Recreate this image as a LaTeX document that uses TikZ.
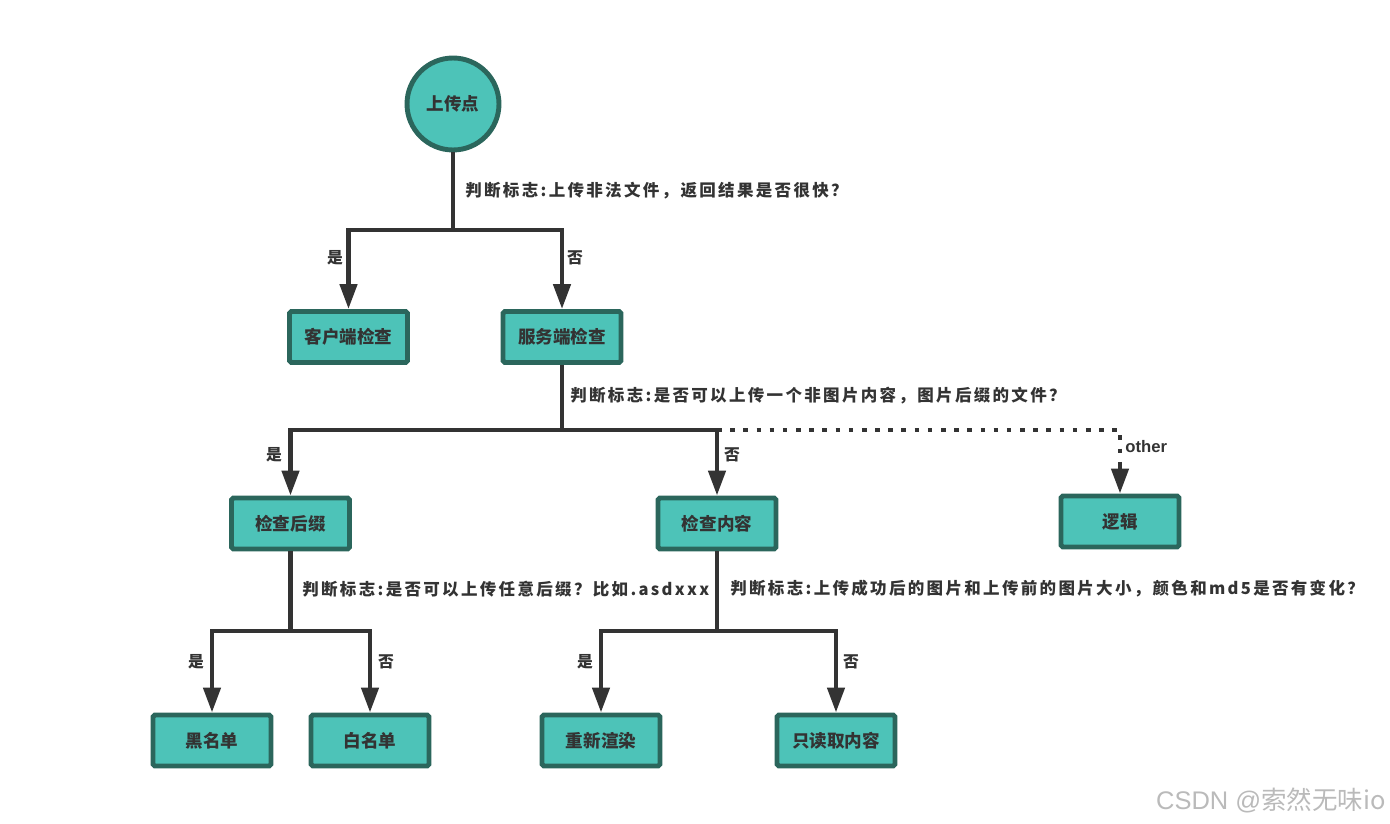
\documentclass[tikz,border=0pt]{standalone}
\usepackage{fontspec}
\setmainfont{Noto Sans CJK SC}
\newfontfamily\latinfont{Liberation Sans}
\newfontfamily\lblfont{Noto Sans CJK SC}[LetterSpace=14]
\usetikzlibrary{positioning}
\usetikzlibrary{arrows.meta}
\definecolor{tealfill}{HTML}{4DC3B8}
\definecolor{tealline}{HTML}{2B665C}
\definecolor{ink}{HTML}{333333}
\tikzset{
    startnode/.style = {circle, line width=2.8pt, draw=tealline, fill=tealfill, minimum size=1.84cm, inner sep=0pt, text=ink, font=\bfseries\fontsize{10}{12}\selectfont},
    cell/.style = {rectangle, rounded corners=1pt, line width=2.8pt, draw=tealline, fill=tealfill, minimum width=2.36cm, minimum height=1.02cm, inner sep=0pt, text=ink, font=\bfseries\fontsize{10}{12}\selectfont},
    question/.style = {anchor=west, inner sep=0pt, text=ink, font=\lblfont\bfseries\fontsize{9.4}{11}\selectfont},
    answer/.style = {inner sep=0pt, text=ink, font=\bfseries\fontsize{9}{11}\selectfont},
    edgel/.style = {line width=2.6pt, ink}, % plain
    edgen/.style = {-{Triangle[length=0.5cm,width=0.34cm]}, line width=2.6pt, ink},
    edged/.style = {line width=2.6pt, ink, dash pattern=on 2.6pt off 4.9pt}, % other
}

\begin{document}
\begin{tikzpicture}[x=0.02cm, y=-0.02cm]
  \useasboundingbox (0,0) rectangle (1390,824);

  % nodes
  \node[startnode] (start) at (453,104) {上传点};
  \node[cell] (client)   at (348.5,337)  {客户端检查};
  \node[cell] (server)   at (562,337)    {服务端检查};
  \node[cell] (suffix)   at (290.5,523.5) {检查后缀};
  \node[cell] (content)  at (717,523.5)  {检查内容};
  \node[cell] (logic)    at (1120,521.5) {逻辑};
  \node[cell] (black)    at (212,740.5)  {黑名单};
  \node[cell] (white)    at (370,740.5)  {白名单};
  \node[cell] (rerender) at (601,740.5)  {重新渲染};
  \node[cell] (readonly) at (836,740.5)  {只读取内容};

  % junctions
  \coordinate (j1) at (453,230);
  \coordinate (j2) at (562,430);
  \coordinate (j3) at (290.5,631);
  \coordinate (j4) at (717,631);
  \coordinate (k2) at (717,430);
  \coordinate (ot) at (1120,466);

  % questions
  \node[question] (q1) at (465,191) {判断标志:上传非法文件，返回结果是否很快？};
  \node[question] (q2) at (570,396) {判断标志:是否可以上传一个非图片内容，图片后缀的文件？};
  \node[question] (q3) at (302,589) {判断标志:是否可以上传任意后缀？比如.asdxxx};
  \node[question] (q4) at (730,589) {判断标志:上传成功后的图片和上传前的图片大小，颜色和md5是否有变化？};

  % answers
  \node[answer] at (335,258) {是};
  \node[answer] at (575,258) {否};
  \node[answer] at (274,455) {是};
  \node[answer] at (732,455) {否};
  \node[answer, anchor=west, font=\latinfont\bfseries\fontsize{9.5}{11}\selectfont] at (1125,447) {other};
  \node[answer] at (196,662) {是};
  \node[answer] at (386,662) {否};
  \node[answer] at (585,662) {是};
  \node[answer] at (851,662) {否};

  % edges
  \draw[edgel] (start) -- (j1);
  \draw[edgen] (j1) -| (client);
  \draw[edgen] (j1) -| (server);
  \draw[edgel] (server) -- (j2);
  \draw[edgen] (j2) -| (suffix);
  \draw[edgen] (j2) -| (content);
  \draw[edged] (k2) -| (ot);
  \draw[edgen] (ot) -- (logic);
  \draw[edgel] (suffix) -- (j3);
  \draw[edgen] (j3) -| (black);
  \draw[edgen] (j3) -| (white);
  \draw[edgel] (content) -- (j4);
  \draw[edgen] (j4) -| (rerender);
  \draw[edgen] (j4) -| (readonly);

  % watermark
  \node[anchor=east, inner sep=0pt, text=black!27, font=\fontsize{14.5}{16}\selectfont] (mark) at (1386,800) {{\latinfont CSDN @}索然无味io};
\end{tikzpicture}
\end{document}
